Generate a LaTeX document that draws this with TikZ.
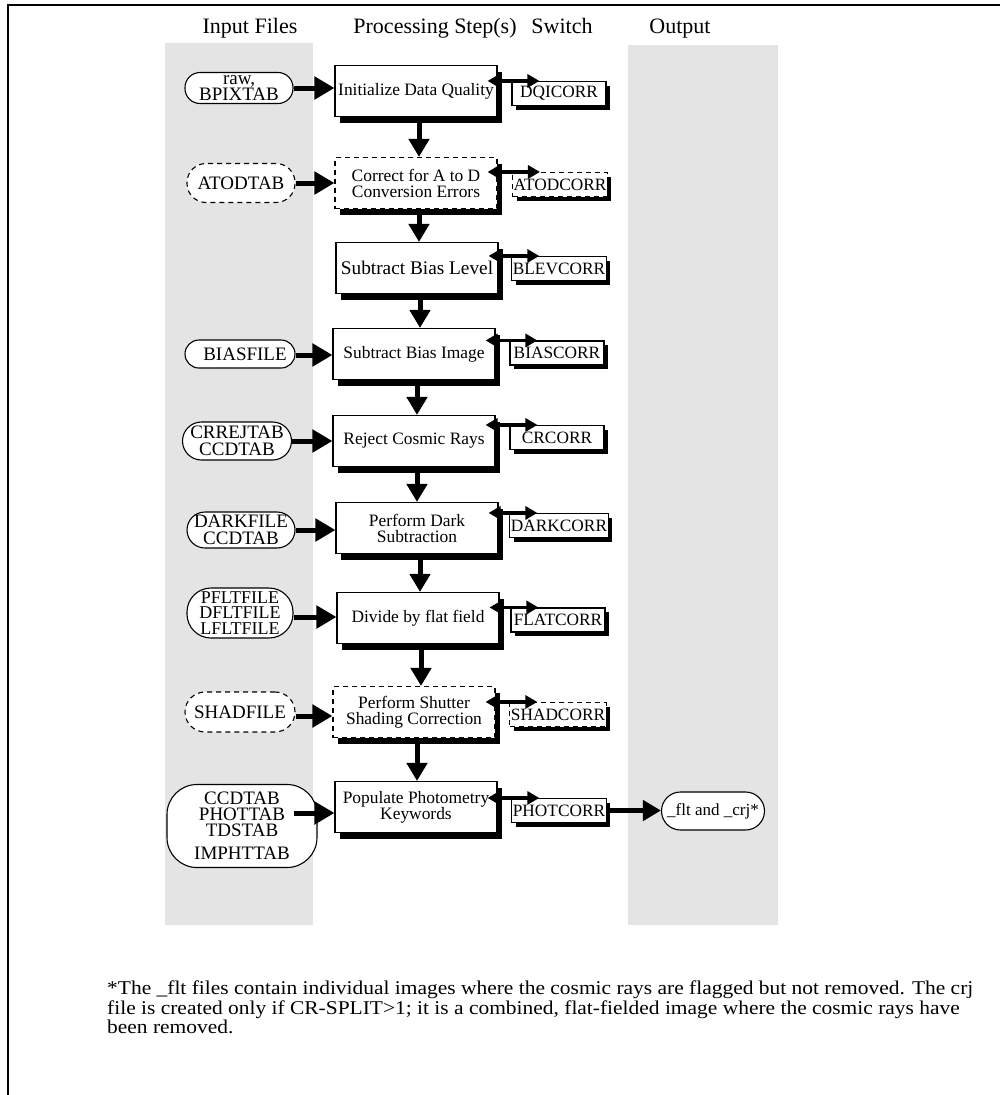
\documentclass[tikz,border=0pt]{standalone}
\usepackage{graphicx}
\usepackage{fontspec}
\setmainfont{Liberation Serif}
\usetikzlibrary{arrows.meta,calc,shadows}

\definecolor{colgray}{HTML}{E4E4E4}
\newcommand\hdsz{\fontsize{22}{24}\selectfont}
\newcommand\procsz{\fontsize{17.4}{16}\selectfont}
\newcommand\swsz{\fontsize{17.3}{18}\selectfont}
\newcommand\insz{\fontsize{19}{17}\selectfont}

\begin{document}
\begin{tikzpicture}[x=1pt,y=-1pt,
  header/.style={font=\hdsz, inner sep=0pt, anchor=base},
  procbox/.style={draw, line width=1.1pt, fill=white, minimum width=162pt,
    minimum height=51pt, align=center, inner sep=2pt, font=\procsz,
    drop shadow={shadow xshift=5pt, shadow yshift=-6pt, fill=black, opacity=1}},
  swbox/.style={draw, line width=1.1pt, fill=white, minimum width=94pt,
    minimum height=24pt, inner sep=1pt, font=\swsz,
    drop shadow={shadow xshift=4pt, shadow yshift=-4pt, fill=black, opacity=1}},
  infile/.style={draw, line width=1.1pt, fill=white, rounded corners=#1,
    align=center, inner sep=1pt, font=\insz},
  optional/.style={dash pattern=on 5pt off 4pt},
  inarrow/.style={line width=5pt, -{Triangle[length=20pt,width=22pt]}},
  downarrow/.style={line width=5pt, -{Triangle[length=18pt,width=20pt]}},
  swarrow/.style={line width=3.5pt,
    {Triangle[length=12pt,width=13pt]}-{Triangle[length=12pt,width=13pt]}}
]
\useasboundingbox (0,0) rectangle (1000,1095);

% page frame
\draw[line width=2pt] (8,1095) -- (8,5) -- (1000,5);

% shaded columns
\fill[colgray] (165,43) rectangle (313,925);
\fill[colgray] (628,45) rectangle (778,925);

% column headings
\node[header] (hin)   at (250,33) {Input Files};
\node[header] (hproc) at (435,33) {Processing Step(s)};
\node[header] (hsw)   at (562,33) {Switch};
\node[header] (hout)  at (680,33) {Output};

% processing steps
\node[procbox] (b1) at (416,91)  {Initialize Data Quality};
\node[procbox, optional] (b2) at (416,183) {Correct for A to D\\Conversion Errors};
\node[procbox, font=\fontsize{19.3}{18}\selectfont] (b3) at (417,268) {Subtract Bias Level};
\node[procbox] (b4) at (414,354) {Subtract Bias Image};
\node[procbox] (b5) at (414,441) {Reject Cosmic Rays};
\node[procbox] (b6) at (417,528) {Perform Dark\\Subtraction};
\node[procbox] (b7) at (418,618) {Divide by flat field};
\node[procbox, optional] (b8) at (414,712) {Perform Shutter\\Shading Correction};
\node[procbox] (b9) at (416,807) {Populate Photometry\\Keywords};

% calibration switches
\node[swbox] (s1) at (559,93.5)  {DQICORR};
\node[swbox, optional] (s2) at (560,184.5) {ATODCORR};
\node[swbox] (s3) at (559,268.5) {BLEVCORR};
\node[swbox] (s4) at (557,353)   {BIASCORR};
\node[swbox] (s5) at (557,437.5) {CRCORR};
\node[swbox] (s6) at (559,525.5) {DARKCORR};
\node[swbox] (s7) at (558,620)   {FLATCORR};
\node[swbox, optional] (s8) at (558,714.5) {SHADCORR};
\node[swbox] (s9) at (559,810.5) {PHOTCORR};

% input files
\node[infile=15pt, minimum width=108pt, minimum height=31pt,
  font=\fontsize{19}{14}\selectfont] (i1) at (239,88) {raw,\\BPIXTAB};
\node[infile=19pt, optional, minimum width=108pt, minimum height=39pt] (i2) at (241,183) {ATODTAB};
\node[infile=14pt, minimum width=110pt, minimum height=28pt] (i3) at (240,354) {\hspace*{10pt}BIASFILE};
\node[infile=19pt, minimum width=109pt, minimum height=38pt] (i4) at (237,441) {CRREJTAB\\CCDTAB};
\node[infile=18pt, minimum width=108pt, minimum height=36pt] (i5) at (241,530) {DARKFILE\\CCDTAB};
\node[infile=24pt, minimum width=106pt, minimum height=50pt,
  font=\fontsize{18}{15.5}\selectfont] (i6) at (240,613) {PFLTFILE\\DFLTFILE\\LFLTFILE};
\node[infile=20pt, optional, minimum width=110pt, minimum height=40pt] (i7) at (240,712) {SHADFILE};
\node[infile=30pt, minimum width=150pt, minimum height=83pt,
  font=\fontsize{19}{16}\selectfont] (i8) at (242,826)
  {CCDTAB\\PHOTTAB\\TDSTAB\\[7pt]IMPHTTAB};

% output product
\node[infile=19pt, minimum width=103pt, minimum height=38pt,
  font=\fontsize{17}{18}\selectfont] (out) at (713,811) {\_flt and \_crj*};

% inputs feeding each step
\draw[inarrow] (i1.east) -- (i1.east -| b1.west);
\draw[inarrow] (i2.east) -- (i2.east -| b2.west);
\draw[inarrow] ($(i3.east)+(0,1)$) -- ($(i3.east -| b4.west)+(0,1)$);
\draw[inarrow] (i4.east) -- (i4.east -| b5.west);
\draw[inarrow] (i5.east) -- (i5.east -| b6.west);
\draw[inarrow] ($(i6.east)+(0,4)$) -- ($(i6.east -| b7.west)+(0,4)$);
\draw[inarrow] ($(i7.east)+(0,4)$) -- ($(i7.east -| b8.west)+(0,4)$);
\draw[inarrow] ($(i8.east)+(-24,-13)$) -- ($(i8.east -| b9.west)+(0,-13)$);

% flow between steps
\foreach \a/\b in {b1/b2,b2/b3,b3/b4,b4/b5,b5/b6,b6/b7,b7/b8,b8/b9}
  \draw[downarrow] ($(\a.south)+(3,0)$) -- ($(\a.south |- \b.north)+(3,0)$);

% step <-> switch links
\foreach \i in {1,...,9}
  \draw[swarrow] ($(b\i.east |- s\i.north)+(-10,0)$) -- ($(s\i.north west)+(28,0)$);

% final product
\draw[inarrow, -{Triangle[length=18pt,width=20pt]}] (s9.east) -- (s9.east -| out.west);

% footnote
\node[anchor=north west, inner sep=0pt] (note) at (107,981)
  {\scalebox{1.10}[1]{\fontsize{19.5}{18.5}\selectfont
   \begin{tabular}{@{}l@{}}
   *The \_flt files contain individual images where the cosmic rays are flagged but not removed. The crj\\
   file is created only if CR-SPLIT>1; it is a combined, flat-fielded image where the cosmic rays have\\
   been removed.
   \end{tabular}}};
\end{tikzpicture}
\end{document}
